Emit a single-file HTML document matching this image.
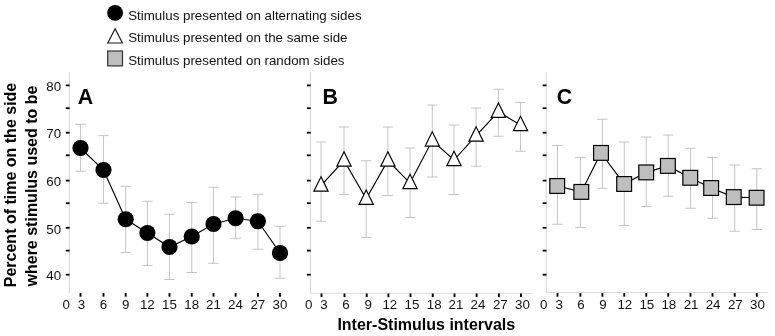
<!DOCTYPE html>
<html><head><meta charset="utf-8"><title>Figure</title>
<style>
html,body{margin:0;padding:0;background:#fff;}
svg{display:block;will-change:transform;}
.t{font-family:"Liberation Sans", sans-serif;font-size:13.33px;fill:#111;}
.tt{font-family:"Liberation Sans", sans-serif;font-size:16px;font-weight:bold;fill:#000;}
.pl{font-family:"Liberation Sans", sans-serif;font-size:21.33px;font-weight:bold;fill:#000;}
</style></head><body>
<svg width="775" height="336" viewBox="0 0 775 336">
<rect width="775" height="336" fill="#fff"/>
<line x1="69.4" y1="72" x2="69.4" y2="293" stroke="#d6d6d6" stroke-width="1"/>
<line x1="65.80000000000001" y1="274.70" x2="69.60000000000001" y2="274.70" stroke="#000" stroke-width="1.8"/>
<text x="61.10000000000001" y="280.40" text-anchor="end" class="t">40</text>
<line x1="65.80000000000001" y1="250.60" x2="69.60000000000001" y2="250.60" stroke="#000" stroke-width="1.8"/>
<line x1="65.80000000000001" y1="227.80" x2="69.60000000000001" y2="227.80" stroke="#000" stroke-width="1.8"/>
<text x="61.10000000000001" y="233.50" text-anchor="end" class="t">50</text>
<line x1="65.80000000000001" y1="203.20" x2="69.60000000000001" y2="203.20" stroke="#000" stroke-width="1.8"/>
<line x1="65.80000000000001" y1="180.60" x2="69.60000000000001" y2="180.60" stroke="#000" stroke-width="1.8"/>
<text x="61.10000000000001" y="186.30" text-anchor="end" class="t">60</text>
<line x1="65.80000000000001" y1="155.30" x2="69.60000000000001" y2="155.30" stroke="#000" stroke-width="1.8"/>
<line x1="65.80000000000001" y1="132.70" x2="69.60000000000001" y2="132.70" stroke="#000" stroke-width="1.8"/>
<text x="61.10000000000001" y="138.40" text-anchor="end" class="t">70</text>
<line x1="65.80000000000001" y1="108.20" x2="69.60000000000001" y2="108.20" stroke="#000" stroke-width="1.8"/>
<line x1="65.80000000000001" y1="85.40" x2="69.60000000000001" y2="85.40" stroke="#000" stroke-width="1.8"/>
<text x="61.10000000000001" y="91.10" text-anchor="end" class="t">80</text>
<line x1="80.50" y1="293.10" x2="80.50" y2="296.70" stroke="#000" stroke-width="1.9"/>
<text x="81.40" y="308.70" text-anchor="middle" class="t">3</text>
<line x1="103.50" y1="293.10" x2="103.50" y2="296.70" stroke="#000" stroke-width="1.9"/>
<text x="103.40" y="308.70" text-anchor="middle" class="t">6</text>
<line x1="125.70" y1="293.10" x2="125.70" y2="296.70" stroke="#000" stroke-width="1.9"/>
<text x="125.60" y="308.70" text-anchor="middle" class="t">9</text>
<line x1="147.40" y1="293.10" x2="147.40" y2="296.70" stroke="#000" stroke-width="1.9"/>
<text x="147.30" y="308.70" text-anchor="middle" class="t">12</text>
<line x1="169.50" y1="293.10" x2="169.50" y2="296.70" stroke="#000" stroke-width="1.9"/>
<text x="169.40" y="308.70" text-anchor="middle" class="t">15</text>
<line x1="191.75" y1="293.10" x2="191.75" y2="296.70" stroke="#000" stroke-width="1.9"/>
<text x="191.65" y="308.70" text-anchor="middle" class="t">18</text>
<line x1="213.50" y1="293.10" x2="213.50" y2="296.70" stroke="#000" stroke-width="1.9"/>
<text x="213.40" y="308.70" text-anchor="middle" class="t">21</text>
<line x1="235.60" y1="293.10" x2="235.60" y2="296.70" stroke="#000" stroke-width="1.9"/>
<text x="235.50" y="308.70" text-anchor="middle" class="t">24</text>
<line x1="257.90" y1="293.10" x2="257.90" y2="296.70" stroke="#000" stroke-width="1.9"/>
<text x="257.80" y="308.70" text-anchor="middle" class="t">27</text>
<line x1="280.00" y1="293.10" x2="280.00" y2="296.70" stroke="#000" stroke-width="1.9"/>
<text x="279.90" y="308.70" text-anchor="middle" class="t">30</text>
<text x="66.20" y="308.70" text-anchor="middle" class="t">0</text>
<text x="77.7" y="104.3" class="pl">A</text>
<path d="M75.30 124.25H85.70M80.50 124.25V171.25M75.30 171.25H85.70" stroke="#b6b6b6" stroke-width="0.8" fill="none"/>
<path d="M98.30 135.6H108.70M103.50 135.6V203.25M98.30 203.25H108.70" stroke="#b6b6b6" stroke-width="0.8" fill="none"/>
<path d="M120.50 186.25H130.90M125.70 186.25V252.5M120.50 252.5H130.90" stroke="#b6b6b6" stroke-width="0.8" fill="none"/>
<path d="M142.20 201.25H152.60M147.40 201.25V265.5M142.20 265.5H152.60" stroke="#b6b6b6" stroke-width="0.8" fill="none"/>
<path d="M164.30 214.25H174.70M169.50 214.25V279.5M164.30 279.5H174.70" stroke="#b6b6b6" stroke-width="0.8" fill="none"/>
<path d="M186.55 202.5H196.95M191.75 202.5V272.5M186.55 272.5H196.95" stroke="#b6b6b6" stroke-width="0.8" fill="none"/>
<path d="M208.30 187.25H218.70M213.50 187.25V263.25M208.30 263.25H218.70" stroke="#b6b6b6" stroke-width="0.8" fill="none"/>
<path d="M230.40 197H240.80M235.60 197V238.25M230.40 238.25H240.80" stroke="#b6b6b6" stroke-width="0.8" fill="none"/>
<path d="M252.70 194.25H263.10M257.90 194.25V249.25M252.70 249.25H263.10" stroke="#b6b6b6" stroke-width="0.8" fill="none"/>
<path d="M274.80 226.25H285.20M280.00 226.25V278.25M274.80 278.25H285.20" stroke="#b6b6b6" stroke-width="0.8" fill="none"/>
<polyline points="80.50,148.00 103.50,170.00 125.70,219.25 147.40,233.00 169.50,247.00 191.75,236.50 213.50,224.00 235.60,218.25 257.90,221.25 280.00,253.00" fill="none" stroke="#000" stroke-width="1.15"/>
<circle cx="80.50" cy="148" r="8.1" fill="#000"/>
<circle cx="103.50" cy="170" r="8.1" fill="#000"/>
<circle cx="125.70" cy="219.25" r="8.1" fill="#000"/>
<circle cx="147.40" cy="233" r="8.1" fill="#000"/>
<circle cx="169.50" cy="247" r="8.1" fill="#000"/>
<circle cx="191.75" cy="236.5" r="8.1" fill="#000"/>
<circle cx="213.50" cy="224" r="8.1" fill="#000"/>
<circle cx="235.60" cy="218.25" r="8.1" fill="#000"/>
<circle cx="257.90" cy="221.25" r="8.1" fill="#000"/>
<circle cx="280.00" cy="253" r="8.1" fill="#000"/>
<line x1="310.5" y1="72" x2="310.5" y2="293" stroke="#d6d6d6" stroke-width="1"/>
<line x1="310.5" y1="293.3" x2="532.1" y2="293.3" stroke="#dcdcdc" stroke-width="1"/>
<line x1="306.9" y1="274.70" x2="310.7" y2="274.70" stroke="#000" stroke-width="1.8"/>
<line x1="306.9" y1="250.60" x2="310.7" y2="250.60" stroke="#000" stroke-width="1.8"/>
<line x1="306.9" y1="227.80" x2="310.7" y2="227.80" stroke="#000" stroke-width="1.8"/>
<line x1="306.9" y1="203.20" x2="310.7" y2="203.20" stroke="#000" stroke-width="1.8"/>
<line x1="306.9" y1="180.60" x2="310.7" y2="180.60" stroke="#000" stroke-width="1.8"/>
<line x1="306.9" y1="155.30" x2="310.7" y2="155.30" stroke="#000" stroke-width="1.8"/>
<line x1="306.9" y1="132.70" x2="310.7" y2="132.70" stroke="#000" stroke-width="1.8"/>
<line x1="306.9" y1="108.20" x2="310.7" y2="108.20" stroke="#000" stroke-width="1.8"/>
<line x1="306.9" y1="85.40" x2="310.7" y2="85.40" stroke="#000" stroke-width="1.8"/>
<line x1="321.50" y1="293.50" x2="321.50" y2="297.10" stroke="#000" stroke-width="1.9"/>
<text x="323.90" y="309.30" text-anchor="middle" class="t">3</text>
<line x1="344.50" y1="293.50" x2="344.50" y2="297.10" stroke="#000" stroke-width="1.9"/>
<text x="345.90" y="309.30" text-anchor="middle" class="t">6</text>
<line x1="366.70" y1="293.50" x2="366.70" y2="297.10" stroke="#000" stroke-width="1.9"/>
<text x="368.10" y="309.30" text-anchor="middle" class="t">9</text>
<line x1="388.40" y1="293.50" x2="388.40" y2="297.10" stroke="#000" stroke-width="1.9"/>
<text x="389.80" y="309.30" text-anchor="middle" class="t">12</text>
<line x1="410.50" y1="293.50" x2="410.50" y2="297.10" stroke="#000" stroke-width="1.9"/>
<text x="411.90" y="309.30" text-anchor="middle" class="t">15</text>
<line x1="432.75" y1="293.50" x2="432.75" y2="297.10" stroke="#000" stroke-width="1.9"/>
<text x="434.15" y="309.30" text-anchor="middle" class="t">18</text>
<line x1="454.50" y1="293.50" x2="454.50" y2="297.10" stroke="#000" stroke-width="1.9"/>
<text x="455.90" y="309.30" text-anchor="middle" class="t">21</text>
<line x1="476.60" y1="293.50" x2="476.60" y2="297.10" stroke="#000" stroke-width="1.9"/>
<text x="478.00" y="309.30" text-anchor="middle" class="t">24</text>
<line x1="498.90" y1="293.50" x2="498.90" y2="297.10" stroke="#000" stroke-width="1.9"/>
<text x="500.30" y="309.30" text-anchor="middle" class="t">27</text>
<line x1="521.00" y1="293.50" x2="521.00" y2="297.10" stroke="#000" stroke-width="1.9"/>
<text x="522.40" y="309.30" text-anchor="middle" class="t">30</text>
<text x="308.80" y="309.30" text-anchor="middle" class="t">0</text>
<text x="322.5" y="104.3" class="pl">B</text>
<path d="M315.80 142H326.20M321.00 142V221.25M315.80 221.25H326.20" stroke="#b6b6b6" stroke-width="0.8" fill="none"/>
<path d="M338.80 127H349.20M344.00 127V194.5M338.80 194.5H349.20" stroke="#b6b6b6" stroke-width="0.8" fill="none"/>
<path d="M361.00 160.75H371.40M366.20 160.75V237.5M361.00 237.5H371.40" stroke="#b6b6b6" stroke-width="0.8" fill="none"/>
<path d="M382.70 127H393.10M387.90 127V195.5M382.70 195.5H393.10" stroke="#b6b6b6" stroke-width="0.8" fill="none"/>
<path d="M404.80 148H415.20M410.00 148V217.5M404.80 217.5H415.20" stroke="#b6b6b6" stroke-width="0.8" fill="none"/>
<path d="M427.05 105H437.45M432.25 105V177M427.05 177H437.45" stroke="#b6b6b6" stroke-width="0.8" fill="none"/>
<path d="M448.80 125H459.20M454.00 125V194.5M448.80 194.5H459.20" stroke="#b6b6b6" stroke-width="0.8" fill="none"/>
<path d="M470.90 108H481.30M476.10 108V166.25M470.90 166.25H481.30" stroke="#b6b6b6" stroke-width="0.8" fill="none"/>
<path d="M493.20 89.25H503.60M498.40 89.25V136.25M493.20 136.25H503.60" stroke="#b6b6b6" stroke-width="0.8" fill="none"/>
<path d="M515.30 102.5H525.70M520.50 102.5V151.25M515.30 151.25H525.70" stroke="#b6b6b6" stroke-width="0.8" fill="none"/>
<polyline points="321.00,185.55 344.00,160.55 366.20,198.80 387.90,160.55 410.00,183.05 432.25,140.55 454.00,160.05 476.10,135.55 498.40,111.80 520.50,125.05" fill="none" stroke="#000" stroke-width="1.15"/>
<path d="M321.00 176.75L328.15 191.15H313.85Z" fill="#fff" stroke="#000" stroke-width="1.15" stroke-linejoin="miter"/>
<path d="M344.00 151.75L351.15 166.15H336.85Z" fill="#fff" stroke="#000" stroke-width="1.15" stroke-linejoin="miter"/>
<path d="M366.20 190.00L373.35 204.40H359.05Z" fill="#fff" stroke="#000" stroke-width="1.15" stroke-linejoin="miter"/>
<path d="M387.90 151.75L395.05 166.15H380.75Z" fill="#fff" stroke="#000" stroke-width="1.15" stroke-linejoin="miter"/>
<path d="M410.00 174.25L417.15 188.65H402.85Z" fill="#fff" stroke="#000" stroke-width="1.15" stroke-linejoin="miter"/>
<path d="M432.25 131.75L439.40 146.15H425.10Z" fill="#fff" stroke="#000" stroke-width="1.15" stroke-linejoin="miter"/>
<path d="M454.00 151.25L461.15 165.65H446.85Z" fill="#fff" stroke="#000" stroke-width="1.15" stroke-linejoin="miter"/>
<path d="M476.10 126.75L483.25 141.15H468.95Z" fill="#fff" stroke="#000" stroke-width="1.15" stroke-linejoin="miter"/>
<path d="M498.40 103.00L505.55 117.40H491.25Z" fill="#fff" stroke="#000" stroke-width="1.15" stroke-linejoin="miter"/>
<path d="M520.50 116.25L527.65 130.65H513.35Z" fill="#fff" stroke="#000" stroke-width="1.15" stroke-linejoin="miter"/>
<line x1="546.25" y1="72" x2="546.25" y2="293" stroke="#d6d6d6" stroke-width="1"/>
<line x1="546.25" y1="292.5" x2="767.85" y2="292.5" stroke="#dcdcdc" stroke-width="1"/>
<line x1="542.65" y1="274.70" x2="546.45" y2="274.70" stroke="#000" stroke-width="1.8"/>
<line x1="542.65" y1="250.60" x2="546.45" y2="250.60" stroke="#000" stroke-width="1.8"/>
<line x1="542.65" y1="227.80" x2="546.45" y2="227.80" stroke="#000" stroke-width="1.8"/>
<line x1="542.65" y1="203.20" x2="546.45" y2="203.20" stroke="#000" stroke-width="1.8"/>
<line x1="542.65" y1="180.60" x2="546.45" y2="180.60" stroke="#000" stroke-width="1.8"/>
<line x1="542.65" y1="155.30" x2="546.45" y2="155.30" stroke="#000" stroke-width="1.8"/>
<line x1="542.65" y1="132.70" x2="546.45" y2="132.70" stroke="#000" stroke-width="1.8"/>
<line x1="542.65" y1="108.20" x2="546.45" y2="108.20" stroke="#000" stroke-width="1.8"/>
<line x1="542.65" y1="85.40" x2="546.45" y2="85.40" stroke="#000" stroke-width="1.8"/>
<line x1="557.50" y1="293.10" x2="557.50" y2="296.70" stroke="#000" stroke-width="1.9"/>
<text x="559.10" y="309.30" text-anchor="middle" class="t">3</text>
<line x1="580.40" y1="293.10" x2="580.40" y2="296.70" stroke="#000" stroke-width="1.9"/>
<text x="581.00" y="309.30" text-anchor="middle" class="t">6</text>
<line x1="602.40" y1="293.10" x2="602.40" y2="296.70" stroke="#000" stroke-width="1.9"/>
<text x="603.00" y="309.30" text-anchor="middle" class="t">9</text>
<line x1="624.25" y1="293.10" x2="624.25" y2="296.70" stroke="#000" stroke-width="1.9"/>
<text x="624.85" y="309.30" text-anchor="middle" class="t">12</text>
<line x1="646.25" y1="293.10" x2="646.25" y2="296.70" stroke="#000" stroke-width="1.9"/>
<text x="646.85" y="309.30" text-anchor="middle" class="t">15</text>
<line x1="668.25" y1="293.10" x2="668.25" y2="296.70" stroke="#000" stroke-width="1.9"/>
<text x="668.85" y="309.30" text-anchor="middle" class="t">18</text>
<line x1="690.50" y1="293.10" x2="690.50" y2="296.70" stroke="#000" stroke-width="1.9"/>
<text x="691.10" y="309.30" text-anchor="middle" class="t">21</text>
<line x1="712.50" y1="293.10" x2="712.50" y2="296.70" stroke="#000" stroke-width="1.9"/>
<text x="713.10" y="309.30" text-anchor="middle" class="t">24</text>
<line x1="734.70" y1="293.10" x2="734.70" y2="296.70" stroke="#000" stroke-width="1.9"/>
<text x="735.30" y="309.30" text-anchor="middle" class="t">27</text>
<line x1="756.80" y1="293.10" x2="756.80" y2="296.70" stroke="#000" stroke-width="1.9"/>
<text x="757.40" y="309.30" text-anchor="middle" class="t">30</text>
<text x="543.75" y="309.30" text-anchor="middle" class="t">0</text>
<text x="556.85" y="104.3" class="pl">C</text>
<path d="M552.30 145.5H562.70M557.50 145.5V224.25M552.30 224.25H562.70" stroke="#b6b6b6" stroke-width="0.8" fill="none"/>
<path d="M575.20 157.5H585.60M580.40 157.5V227.5M575.20 227.5H585.60" stroke="#b6b6b6" stroke-width="0.8" fill="none"/>
<path d="M597.20 119.25H607.60M602.40 119.25V188.25M597.20 188.25H607.60" stroke="#b6b6b6" stroke-width="0.8" fill="none"/>
<path d="M619.05 142H629.45M624.25 142V225.5M619.05 225.5H629.45" stroke="#b6b6b6" stroke-width="0.8" fill="none"/>
<path d="M641.05 137H651.45M646.25 137V206.5M641.05 206.5H651.45" stroke="#b6b6b6" stroke-width="0.8" fill="none"/>
<path d="M663.05 135H673.45M668.25 135V196.25M663.05 196.25H673.45" stroke="#b6b6b6" stroke-width="0.8" fill="none"/>
<path d="M685.30 148.25H695.70M690.50 148.25V208.25M685.30 208.25H695.70" stroke="#b6b6b6" stroke-width="0.8" fill="none"/>
<path d="M707.30 157.5H717.70M712.50 157.5V218.25M707.30 218.25H717.70" stroke="#b6b6b6" stroke-width="0.8" fill="none"/>
<path d="M729.50 165H739.90M734.70 165V231.25M729.50 231.25H739.90" stroke="#b6b6b6" stroke-width="0.8" fill="none"/>
<path d="M751.60 168.75H762.00M756.80 168.75V229.5M751.60 229.5H762.00" stroke="#b6b6b6" stroke-width="0.8" fill="none"/>
<polyline points="557.20,186.00 581.30,191.90 601.00,152.90 624.15,184.00 646.20,172.40 667.90,165.90 690.25,177.80 711.15,188.00 733.75,197.10 756.60,197.75" fill="none" stroke="#000" stroke-width="1.15"/>
<rect x="549.80" y="178.60" width="14.8" height="14.8" fill="#bebebe" stroke="#000" stroke-width="1.2"/>
<rect x="573.90" y="184.50" width="14.8" height="14.8" fill="#bebebe" stroke="#000" stroke-width="1.2"/>
<rect x="593.60" y="145.50" width="14.8" height="14.8" fill="#bebebe" stroke="#000" stroke-width="1.2"/>
<rect x="616.75" y="176.60" width="14.8" height="14.8" fill="#bebebe" stroke="#000" stroke-width="1.2"/>
<rect x="638.80" y="165.00" width="14.8" height="14.8" fill="#bebebe" stroke="#000" stroke-width="1.2"/>
<rect x="660.50" y="158.50" width="14.8" height="14.8" fill="#bebebe" stroke="#000" stroke-width="1.2"/>
<rect x="682.85" y="170.40" width="14.8" height="14.8" fill="#bebebe" stroke="#000" stroke-width="1.2"/>
<rect x="703.75" y="180.60" width="14.8" height="14.8" fill="#bebebe" stroke="#000" stroke-width="1.2"/>
<rect x="726.35" y="189.70" width="14.8" height="14.8" fill="#bebebe" stroke="#000" stroke-width="1.2"/>
<rect x="749.20" y="190.35" width="14.8" height="14.8" fill="#bebebe" stroke="#000" stroke-width="1.2"/>
<circle cx="115.1" cy="12.9" r="7.9" fill="#000"/>
<path d="M115.10 28.70L122.40 43.00H107.80Z" fill="#fff" stroke="#1c1c1c" stroke-width="1.2" stroke-linejoin="miter"/>
<rect x="107.7" y="51" width="14.8" height="14.9" fill="#bebebe" stroke="#333" stroke-width="1.2"/>
<text x="128.2" y="19.95" class="t">Stimulus presented on alternating sides</text>
<text x="128.2" y="42.40" class="t">Stimulus presented on the same side</text>
<text x="128.2" y="64.85" class="t">Stimulus presented on random sides</text>
<text x="426.3" y="330.1" text-anchor="middle" class="tt">Inter-Stimulus intervals</text>
<text transform="translate(16.4 185.0) rotate(-90)" text-anchor="middle" class="tt">Percent of time on the side</text>
<text transform="translate(37.1 186.0) rotate(-90)" text-anchor="middle" class="tt">where stimulus used to be</text>
</svg>
</body></html>
